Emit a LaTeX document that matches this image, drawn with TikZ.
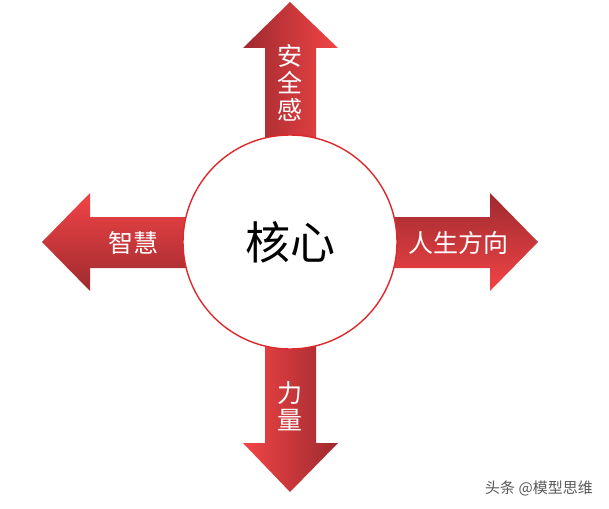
\documentclass[tikz,border=0pt]{standalone}
\usepackage{fontspec}
\newfontfamily\cjk{Noto Sans CJK SC}
\definecolor{brightred}{HTML}{F24446}
\definecolor{darkred}{HTML}{9E2A2F}
\definecolor{ringred}{HTML}{DC2A2C}
\tikzset{
  lbl/.style={text=white, font=\cjk\fontsize{25}{26}\selectfont, inner sep=0pt, align=center},
  vlbl/.style={text=white, font=\cjk\fontsize{25}{27}\selectfont, inner sep=0pt, align=center},
}
\begin{document}
\begin{tikzpicture}[x=1pt,y=-1pt]
\useasboundingbox (0,0) rectangle (609,508);
% up arrow
\shade[left color=darkred, right color=brightred]
  (265,250) -- (265,48) -- (243,48) -- (290,2) -- (338,48) -- (316,48) -- (316,250) -- cycle;
% down arrow
\shade[left color=brightred, right color=darkred]
  (265,240) -- (265,443) -- (243,443) -- (290,492) -- (338,443) -- (316,443) -- (316,240) -- cycle;
% left arrow
\shade[top color=brightred, bottom color=darkred]
  (300,217) -- (90,217) -- (90,193) -- (42,242) -- (90,291) -- (90,268) -- (300,268) -- cycle;
% right arrow
\shade[top color=darkred, bottom color=brightred]
  (280,217) -- (490,217) -- (490,193) -- (538,242) -- (490,291) -- (490,268) -- (280,268) -- cycle;
% circle
\node[circle, draw=ringred, line width=1.4pt, fill=white, minimum size=214pt, inner sep=0pt] (core) at (290,242) {};
\node[font=\cjk\fontsize{45}{48}\selectfont, inner sep=0pt] (corelbl) at (core.center) {核心};
\node[vlbl] (up) at (290,83) {安\\全\\感};
\node[vlbl] (down) at (290,406) {力\\量};
\node[lbl] (left) at (133,243) {智慧};
\node[lbl] (right) at (458,243) {人生方向};
\node[text=black!65, font=\cjk\fontsize{15}{16}\selectfont, inner sep=0pt] (wm) at (539,488) {头条 @模型思维};
\end{tikzpicture}
\end{document}
